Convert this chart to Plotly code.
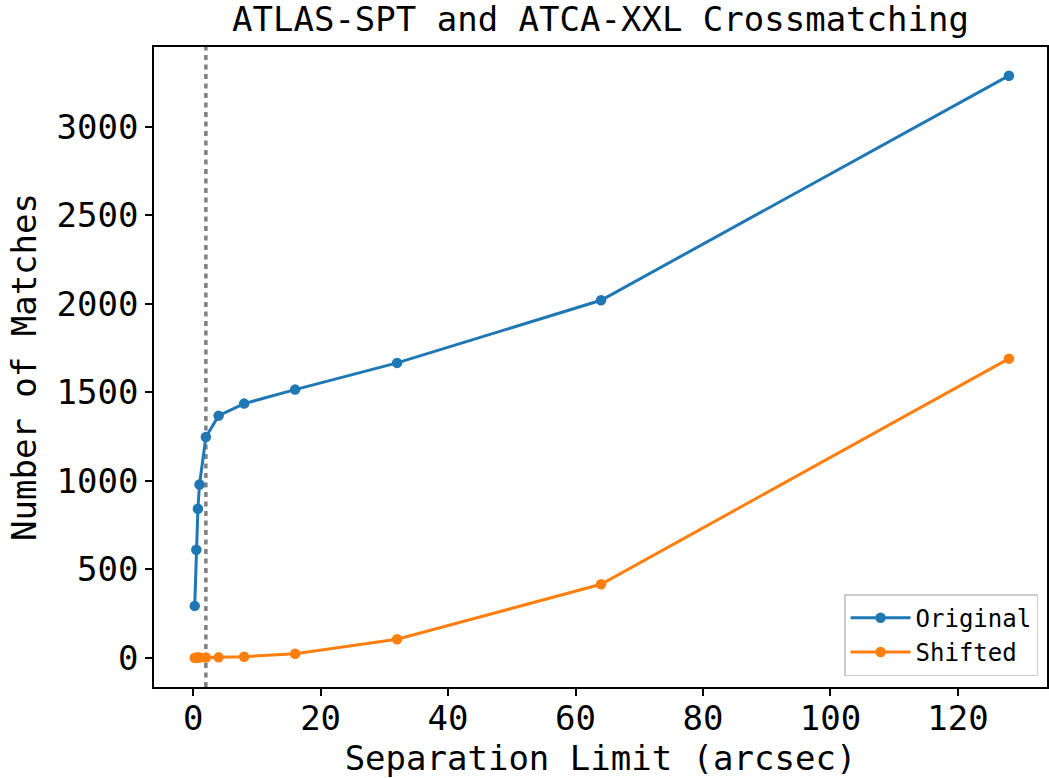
import plotly.graph_objects as go

# Separation limits (arcsec) and match counts
separation = [0.25, 0.5, 0.75, 1, 2, 4, 8, 16, 32, 64, 128]
original_matches = [294, 611, 843, 980, 1248, 1369, 1437, 1516, 1667, 2021, 3290]
shifted_matches = [1, 1, 2, 2, 2, 3, 7, 23, 105, 416, 1691]
chosen_limit = 2

x_ticks = [0, 20, 40, 60, 80, 100, 120]
y_ticks = [0, 500, 1000, 1500, 2000, 2500, 3000]

FONT = "DejaVu Sans Mono"

fig = go.Figure()
fig.add_trace(go.Scatter(
    x=separation, y=original_matches, mode="lines+markers", name="Original",
    line=dict(color="#1f77b4", width=3), marker=dict(size=10.5, color="#1f77b4"),
))
fig.add_trace(go.Scatter(
    x=separation, y=shifted_matches, mode="lines+markers", name="Shifted",
    line=dict(color="#ff7f0e", width=3), marker=dict(size=10.5, color="#ff7f0e"),
))

fig.add_shape(type="line", x0=chosen_limit, x1=chosen_limit, xref="x",
              y0=0, y1=1, yref="paper",
              line=dict(color="#808080", width=3.5, dash="5px,4.5px"), layer="below")

axis_common = dict(
    showline=True, linecolor="black", linewidth=1.5, mirror=True,
    ticks="outside", ticklen=7, tickwidth=1.5, tickcolor="black",
    showgrid=False, zeroline=False,
    tickfont=dict(family=FONT, size=34, color="black"),
)

fig.update_layout(
    width=1049, height=778,
    margin=dict(l=154, r=0, t=47, b=91),
    paper_bgcolor="white", plot_bgcolor="white",
    title=dict(text="ATLAS-SPT and ATCA-XXL Crossmatching",
               font=dict(family=FONT, size=34, color="black"),
               x=0.5, xanchor="center", xref="paper", y=0.975, yanchor="middle"),
    xaxis=dict(range=[-6.14, 133.97], tickvals=x_ticks, ticklabelstandoff=-7,
               title=dict(text="Separation Limit (arcsec)",
                          font=dict(family=FONT, size=34, color="black"), standoff=14),
               **axis_common),
    yaxis=dict(range=[-164.4, 3452], tickvals=y_ticks,
               title=dict(text="Number of Matches",
                          font=dict(family=FONT, size=34, color="black"), standoff=10),
               **axis_common),
    legend=dict(x=0.99, y=0.017, xanchor="right", yanchor="bottom",
                bgcolor="white", bordercolor="#cccccc", borderwidth=1.5,
                font=dict(family=FONT, size=24, color="black"),
                itemwidth=60),
    showlegend=True,
)

fig.write_html("out.html")
